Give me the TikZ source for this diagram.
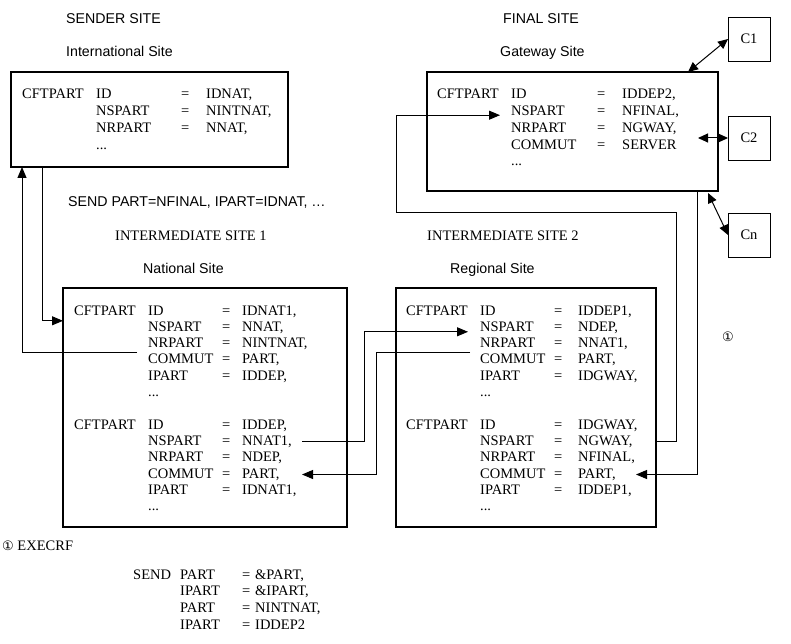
\documentclass[tikz,border=0pt]{standalone}
\usepackage{fontspec}
\setmainfont{Liberation Serif}
\setsansfont{Liberation Sans}
\newfontfamily\symfont{DejaVu Sans}
\usetikzlibrary{arrows.meta}
\newlength{\kvkey}
\newlength{\kveq}
\newcommand{\kv}[2]{\makebox[\kvkey][l]{#1}\makebox[\kveq][c]{=}#2}
\newcommand{\circone}{{\symfont\fontsize{13}{13}\selectfont ①}}

\tikzset{
  site/.style={draw, rectangle, line width=2.4pt, outer sep=0pt, anchor=north west},
  client/.style={draw, rectangle, line width=0.9pt, outer sep=0pt, anchor=north west, minimum width=42pt, minimum height=44pt},
  kvrow/.style={inner sep=0pt, text width=150pt, align=left, text height=10pt, text depth=3pt, node distance=16.3pt},
  toprow/.style={kvrow, node distance=16.7pt},
  cftlabel/.style={inner sep=0pt, text width=74pt, align=left, text height=10pt, text depth=3pt, node distance=112pt},
  heading/.style={inner sep=0pt, anchor=base west, font=\fontsize{14.2}{16.4}\sffamily\selectfont},
  serifhead/.style={inner sep=0pt, anchor=base west},
  link/.style={line width=1pt, -{Triangle[length=11pt,width=9pt]}},
  duplex/.style={line width=1pt, {Triangle[length=10pt,width=9pt]}-{Triangle[length=10pt,width=9pt]}},
}

\begin{document}
\begin{tikzpicture}[x=1pt, y=-1pt, every node/.append style={font=\fontsize{14.5}{16.4}\selectfont}]
\useasboundingbox (0,0) rectangle (791,644);

% sites
\node (intl) [site, minimum width=277pt, minimum height=95pt] at (11,72) {};
\node (gw)   [site, minimum width=291pt, minimum height=119pt] at (427,72) {};
\node (nat)  [site, minimum width=284pt, minimum height=239pt] at (63,288) {};
\node (reg)  [site, minimum width=260pt, minimum height=239pt] at (396,288) {};
\node (c1) [client] at (728,17) {C1};
\node (c2) [client] at (728,116) {C2};
\node (cn) [client] at (728,213) {Cn};

% headings
\node (sender)   [heading] at (66,24) {SENDER SITE};
\node (intlname) [heading] at (66,57) {International Site};
\node (final)    [heading] at (503,24) {FINAL SITE};
\node (gwname)   [heading] at (500,57) {Gateway Site};
\node (sendpart) [heading] at (68,207) {SEND PART=NFINAL, IPART=IDNAT, …};
\node (inter1)   [serifhead] at (115,240) {INTERMEDIATE SITE 1};
\node (natname)  [heading] at (143,273) {National Site};
\node (inter2)   [serifhead] at (427,240) {INTERMEDIATE SITE 2};
\node (regname)  [heading] at (450,273) {Regional Site};

% international site
\setlength{\kvkey}{68pt}\setlength{\kveq}{42pt}
\node (intl1) [toprow, anchor=base west] at (96,99) {\kv{ID}{IDNAT,}};
\node (intl2) [toprow, below of=intl1] {\kv{NSPART}{NINTNAT,}};
\node (intl3) [toprow, below of=intl2] {\kv{NRPART}{NNAT,}};
\node (intl4) [toprow, below of=intl3] {...};
\node (intlcft) [cftlabel, left of=intl1] {CFTPART};

% gateway site
\setlength{\kvkey}{69pt}\setlength{\kveq}{42pt}
\node (gwA1) [toprow, anchor=base west] at (511,99) {\kv{ID}{IDDEP2,}};
\node (gwA2) [toprow, below of=gwA1] {\kv{NSPART}{NFINAL,}};
\node (gwA3) [toprow, below of=gwA2] {\kv{NRPART}{NGWAY,}};
\node (gwA4) [toprow, below of=gwA3] {\kv{COMMUT}{SERVER}};
\node (gwA5) [toprow, below of=gwA4] {...};
\node (gwcft) [cftlabel, left of=gwA1] {CFTPART};

% national site
\setlength{\kvkey}{62pt}\setlength{\kveq}{32pt}
\node (natA1) [kvrow, anchor=base west] at (148,315) {\kv{ID}{IDNAT1,}};
\node (natA2) [kvrow, below of=natA1] {\kv{NSPART}{NNAT,}};
\node (natA3) [kvrow, below of=natA2] {\kv{NRPART}{NINTNAT,}};
\node (natA4) [kvrow, below of=natA3] {\kv{COMMUT}{PART,}};
\node (natA5) [kvrow, below of=natA4] {\kv{IPART}{IDDEP,}};
\node (natA6) [kvrow, below of=natA5] {...};
\node (natB1) [kvrow, below of=natA6, node distance=32.6pt] {\kv{ID}{IDDEP,}};
\node (natB2) [kvrow, below of=natB1] {\kv{NSPART}{NNAT1,}};
\node (natB3) [kvrow, below of=natB2] {\kv{NRPART}{NDEP,}};
\node (natB4) [kvrow, below of=natB3] {\kv{COMMUT}{PART,}};
\node (natB5) [kvrow, below of=natB4] {\kv{IPART}{IDNAT1,}};
\node (natB6) [kvrow, below of=natB5] {...};
\node (natAcft) [cftlabel, left of=natA1] {CFTPART};
\node (natBcft) [cftlabel, left of=natB1] {CFTPART};

% regional site
\setlength{\kvkey}{58pt}\setlength{\kveq}{40pt}
\node (regA1) [kvrow, anchor=base west] at (480,315) {\kv{ID}{IDDEP1,}};
\node (regA2) [kvrow, below of=regA1] {\kv{NSPART}{NDEP,}};
\node (regA3) [kvrow, below of=regA2] {\kv{NRPART}{NNAT1,}};
\node (regA4) [kvrow, below of=regA3] {\kv{COMMUT}{PART,}};
\node (regA5) [kvrow, below of=regA4] {\kv{IPART}{IDGWAY,}};
\node (regA6) [kvrow, below of=regA5] {...};
\node (regB1) [kvrow, below of=regA6, node distance=32.6pt] {\kv{ID}{IDGWAY,}};
\node (regB2) [kvrow, below of=regB1] {\kv{NSPART}{NGWAY,}};
\node (regB3) [kvrow, below of=regB2] {\kv{NRPART}{NFINAL,}};
\node (regB4) [kvrow, below of=regB3] {\kv{COMMUT}{PART,}};
\node (regB5) [kvrow, below of=regB4] {\kv{IPART}{IDDEP1,}};
\node (regB6) [kvrow, below of=regB5] {...};
\node (regAcft) [cftlabel, left of=regA1] {CFTPART};
\node (regBcft) [cftlabel, left of=regB1] {CFTPART};

% note
\node (note) at (728,337) {\circone};
\node (exec) [serifhead] at (2,550) {\circone\ EXECRF};
\node (exec1) [toprow, anchor=base west] at (180,579) {\makebox[62pt][l]{PART}= \&PART,};
\node (exec2) [toprow, below of=exec1] {\makebox[62pt][l]{IPART}= \&IPART,};
\node (exec3) [toprow, below of=exec2] {\makebox[62pt][l]{PART}= NINTNAT,};
\node (exec4) [toprow, below of=exec3] {\makebox[62pt][l]{IPART}= IDDEP2};
\node (send) [cftlabel, left of=exec1, node distance=85pt] {SEND};

% lanes
\coordinate (lane0) at (302,0);
\coordinate (lane1) at (22,0);
\coordinate (lane2) at (42,0);
\coordinate (lane3) at (364,0);
\coordinate (lane4) at (376,0);
\coordinate (lane5) at (396,0);
\coordinate (lane7) at (697,0);
\coordinate (lane8) at (636,0);
\coordinate (turn) at (676,212);

% connectors
\draw [link] ([xshift=-11pt,yshift=8pt]natA4.west) -| (lane1 |- intl.south);
\draw [link] (lane2 |- intl.south) |- ([yshift=7pt]natA2.west -| nat.west);
\draw [link] (lane0 |- natB2.west) -| ([yshift=-4pt]lane3 |- regA2.west) -- ([xshift=-12pt,yshift=-4pt]regA2.west);
\draw [link] ([xshift=-10pt,yshift=7.5pt]regA4.west) -| (lane4 |- natB4.west) -- (lane0 |- natB4.west);
\draw [link] (reg.east |- regB2.west) -| (turn) -| ([yshift=-3pt]lane5 |- gwA2.west) -- ([xshift=-11pt,yshift=-3pt]gwA2.west);
\draw [link] (lane7 |- gw.south) |- (lane8 |- regB4.west);
\draw [duplex] (c1.west) -- ([xshift=-30pt]gw.north east);
\draw [duplex] (c2.west) -- ([xshift=-20pt]gw.east |- c2.west);
\draw [duplex] (cn.west) -- ([xshift=-10pt,yshift=-2pt]gw.south east);
\end{tikzpicture}
\end{document}
